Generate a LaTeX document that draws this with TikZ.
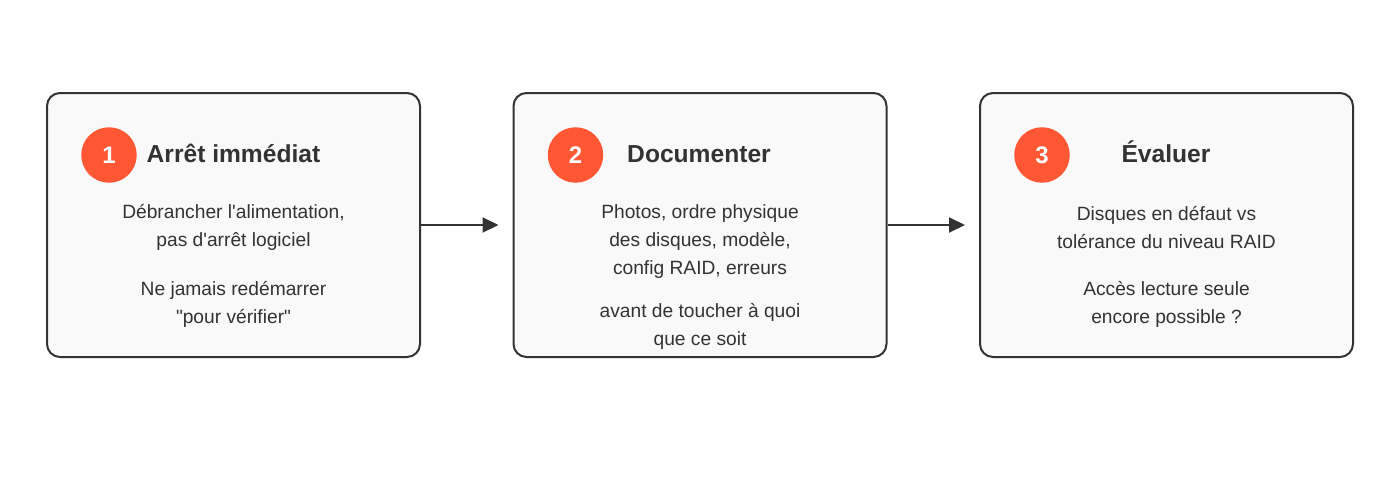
\documentclass[tikz,border=0pt]{standalone}
\usepackage{fontspec}
\setmainfont{Liberation Sans}[Ligatures=TeXOff]
\usetikzlibrary{arrows.meta}
\definecolor{ink}{HTML}{333333}
\definecolor{boxfill}{HTML}{F9F9F9}
\definecolor{badge}{HTML}{FF5733}
\tikzset{
  stepbox/.style={draw=ink, line width=2pt, fill=boxfill, rounded corners=13pt, minimum width=373pt, minimum height=264pt, inner sep=0pt},
  badgenode/.style={circle, fill=badge, minimum size=55.5pt, inner sep=0pt, text=white, font=\fontsize{24}{28}\selectfont\bfseries},
  titlenode/.style={anchor=base, inner sep=0pt, text=ink, font=\fontsize{24.6}{28}\selectfont\bfseries},
  bodynode/.style={text=ink, align=center, font=\fontsize{19.2}{28}\selectfont},
  flow/.style={draw=ink, line width=2pt, -{Triangle[length=16pt, width=15pt]}},
}
\begin{document}
\begin{tikzpicture}[x=1pt, y=-1pt]
\useasboundingbox (0,0) rectangle (1400,498);
% boxes
\node[stepbox] (b1) at (233.5,225) {};
\node[stepbox] (b2) at (700,225) {};
\node[stepbox] (b3) at (1166.5,225) {};
% badges
\node[badgenode] (c1) at (109,155) {1};
\node[badgenode] (c2) at (575.5,155) {2};
\node[badgenode] (c3) at (1042,155) {3};
% titles
\node[titlenode] (t1) at (233.5,162.5) {Arrêt immédiat};
\node[titlenode] (t2) at (699,162.5) {Documenter};
\node[titlenode] (t3) at (1166,162.5) {Évaluer};
% body texts
\node[bodynode] (d1a) at (233.5,227.5) {Débrancher l'alimentation,\\pas d'arrêt logiciel};
\node[bodynode] (d1b) at (233.5,304.5) {Ne jamais redémarrer\\"pour vérifier"};
\node[bodynode] (d2a) at (700,241.5) {Photos, ordre physique\\des disques, modèle,\\config RAID, erreurs};
\node[bodynode] (d2b) at (700,326.5) {avant de toucher à quoi\\que ce soit};
\node[bodynode] (d3a) at (1166.5,227.5) {Disques en défaut vs\\tolérance du niveau RAID};
\node[bodynode] (d3b) at (1166.5,304.5) {Accès lecture seule\\encore possible ?};
% arrows
\draw[flow] (b1.east) -- ([xshift=-14pt]b2.west);
\draw[flow] (b2.east) -- ([xshift=-14pt]b3.west);
\end{tikzpicture}
\end{document}
